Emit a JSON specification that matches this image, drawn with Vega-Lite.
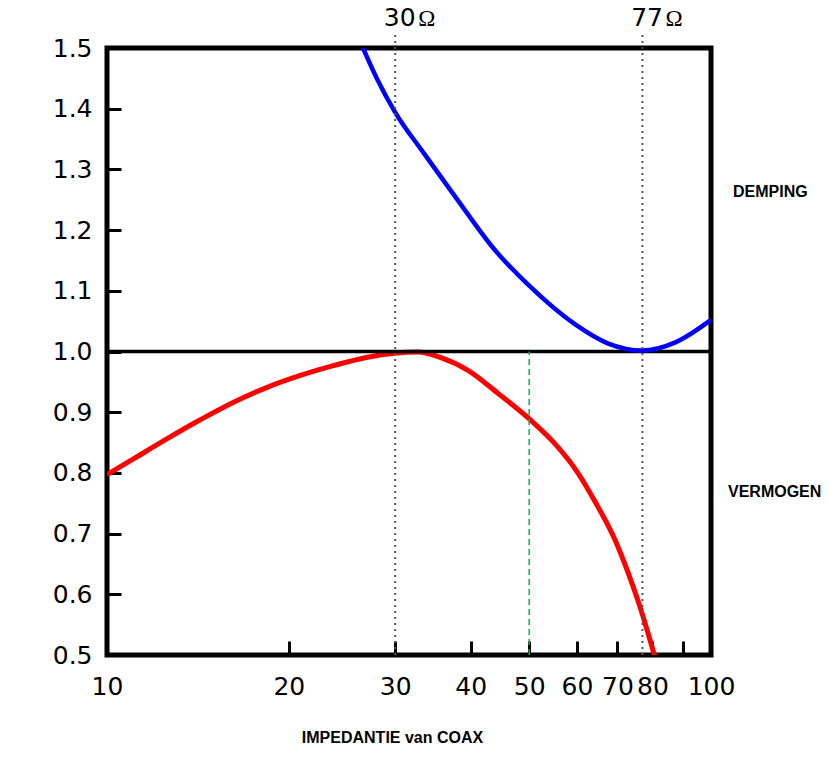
{
  "$schema": "https://vega.github.io/schema/vega-lite/v6.json",
  "width": 604,
  "height": 607,
  "autosize": {"type": "none"},
  "padding": {"left": 107, "top": 48, "right": 118, "bottom": 108},
  "background": "white",
  "config": {"view": {"stroke": "black", "strokeWidth": 5}},
  "datasets": {
    "demping": [
      {"z": 26.4, "v": 1.505},
      {"z": 28.0, "v": 1.449},
      {"z": 30.0, "v": 1.394},
      {"z": 33.5, "v": 1.326},
      {"z": 38.1, "v": 1.249},
      {"z": 43.8, "v": 1.168},
      {"z": 49.8, "v": 1.11},
      {"z": 59.5, "v": 1.045},
      {"z": 67.6, "v": 1.013},
      {"z": 77.0, "v": 1.0015},
      {"z": 87.3, "v": 1.015},
      {"z": 100, "v": 1.052}
    ],
    "vermogen": [
      {"z": 10, "v": 0.797},
      {"z": 11.06, "v": 0.823},
      {"z": 12.56, "v": 0.856},
      {"z": 14.27, "v": 0.8875},
      {"z": 16.2, "v": 0.9165},
      {"z": 18.42, "v": 0.941},
      {"z": 20.9, "v": 0.9605},
      {"z": 23.77, "v": 0.977},
      {"z": 27.0, "v": 0.9906},
      {"z": 29.9, "v": 0.997},
      {"z": 32.7, "v": 0.999},
      {"z": 35.7, "v": 0.99},
      {"z": 39.6, "v": 0.969},
      {"z": 44.4, "v": 0.931},
      {"z": 50.4, "v": 0.886},
      {"z": 54.8, "v": 0.851},
      {"z": 60.3, "v": 0.799},
      {"z": 64.25, "v": 0.753},
      {"z": 69.4, "v": 0.689},
      {"z": 73.0, "v": 0.634},
      {"z": 76.3, "v": 0.579},
      {"z": 79.3, "v": 0.524},
      {"z": 80.8, "v": 0.496}
    ],
    "marks": [
      {"z": 30, "label": "30"},
      {"z": 77, "label": "77"}
    ],
    "one": [{}]
  },
  "layer": [
    {
      "data": {"name": "vermogen"},
      "mark": {"type": "line", "color": "#ff0000", "strokeWidth": 5, "interpolate": "monotone", "clip": true},
      "encoding": {
        "x": {
          "field": "z", "type": "quantitative",
          "scale": {"type": "log", "domain": [10, 100]},
          "axis": {
            "values": [10, 20, 30, 40, 50, 60, 70, 80, 90, 100],
            "format": "d",
            "labelExpr": "datum.value == 90 ? '' : datum.label",
            "domain": false, "grid": false,
            "tickSize": -14, "tickWidth": 3, "tickColor": "black",
            "labelFont": "DejaVu Sans", "labelFontSize": 25, "labelColor": "black",
            "labelPadding": 33, "labelFlush": false, "labelOverlap": false,
            "title": "IMPEDANTIE van COAX",
            "titleFont": "Liberation Sans", "titleFontWeight": "bold", "titleFontSize": 16,
            "titleColor": "black", "titleX": 285, "titleY": 82,
            "titleBaseline": "middle", "titleAlign": "center"
          }
        },
        "y": {
          "field": "v", "type": "quantitative",
          "scale": {"domain": [0.5, 1.5]},
          "axis": {
            "values": [0.5, 0.6, 0.7, 0.8, 0.9, 1.0, 1.1, 1.2, 1.3, 1.4, 1.5],
            "format": ".1f",
            "domain": false, "grid": false,
            "tickSize": -14, "tickWidth": 3, "tickColor": "black",
            "labelFont": "DejaVu Sans", "labelFontSize": 25, "labelColor": "black",
            "labelPadding": 29, "labelFlush": false, "labelOverlap": false,
            "title": null
          }
        }
      }
    },
    {
      "data": {"name": "one"},
      "mark": {"type": "rule", "color": "black", "strokeWidth": 3.5},
      "encoding": {
        "x": {"datum": 10, "type": "quantitative"},
        "x2": {"datum": 100},
        "y": {"datum": 1.0, "type": "quantitative"}
      }
    },
    {
      "data": {"name": "demping"},
      "mark": {"type": "line", "color": "#0000ff", "strokeWidth": 4.5, "interpolate": "monotone", "clip": true},
      "encoding": {
        "x": {"field": "z", "type": "quantitative"},
        "y": {"field": "v", "type": "quantitative"}
      }
    },
    {
      "data": {"name": "marks"},
      "mark": {"type": "rule", "color": "#555555", "strokeWidth": 2, "strokeDash": [2, 4]},
      "encoding": {
        "x": {"field": "z", "type": "quantitative"},
        "y": {"datum": 0.5, "type": "quantitative"},
        "y2": {"datum": 1.524}
      }
    },
    {
      "data": {"name": "one"},
      "mark": {"type": "rule", "color": "#00b84a", "strokeWidth": 1.5, "strokeDash": [6, 4]},
      "encoding": {
        "x": {"datum": 50, "type": "quantitative"},
        "y": {"datum": 0.5, "type": "quantitative"},
        "y2": {"datum": 1.0}
      }
    },
    {
      "data": {"name": "marks"},
      "mark": {"type": "text", "font": "DejaVu Sans", "fontSize": 25, "color": "black", "align": "right", "baseline": "alphabetic", "dx": 20.5, "dy": -22},
      "encoding": {
        "x": {"field": "z", "type": "quantitative"},
        "y": {"datum": 1.5, "type": "quantitative"},
        "text": {"field": "label"}
      }
    },
    {
      "data": {"name": "marks"},
      "mark": {"type": "text", "font": "Liberation Serif", "fontSize": 23, "color": "black", "align": "left", "baseline": "alphabetic", "dx": 23, "dy": -22},
      "encoding": {
        "x": {"field": "z", "type": "quantitative"},
        "y": {"datum": 1.5, "type": "quantitative"},
        "text": {"value": "Ω"}
      }
    },
    {
      "data": {"name": "one"},
      "mark": {"type": "text", "font": "Liberation Sans", "fontWeight": "bold", "fontSize": 16, "color": "black", "align": "left", "baseline": "middle", "dx": 22},
      "encoding": {
        "x": {"datum": 100, "type": "quantitative"},
        "y": {"datum": 1.262, "type": "quantitative"},
        "text": {"value": "DEMPING"}
      }
    },
    {
      "data": {"name": "one"},
      "mark": {"type": "text", "font": "Liberation Sans", "fontWeight": "bold", "fontSize": 16, "color": "black", "align": "left", "baseline": "middle", "dx": 17},
      "encoding": {
        "x": {"datum": 100, "type": "quantitative"},
        "y": {"datum": 0.769, "type": "quantitative"},
        "text": {"value": "VERMOGEN"}
      }
    }
  ]
}
